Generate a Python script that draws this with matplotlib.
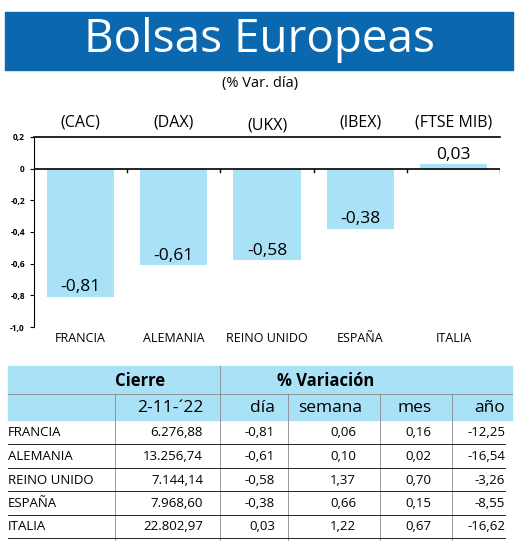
import matplotlib
matplotlib.use("Agg")
import matplotlib.pyplot as plt
from matplotlib.patches import Rectangle

plt.rcParams['font.family'] = ['Open Sans', 'DejaVu Sans']

countries = ["FRANCIA", "ALEMANIA", "REINO UNIDO", "ESPAÑA", "ITALIA"]
indices = ["(CAC)", "(DAX)", "(UKX)", "(IBEX)", "(FTSE MIB)"]
dia = [-0.81, -0.61, -0.58, -0.38, 0.03]
cierre = ["6.276,88", "13.256,74", "7.144,14", "7.968,60", "22.802,97"]
semana = ["0,06", "0,10", "1,37", "0,66", "1,22"]
mes = ["0,16", "0,02", "0,70", "0,15", "0,67"]
anio = ["-12,25", "-16,54", "-3,26", "-8,55", "-16,62"]

W, H = 520, 544
fig = plt.figure(figsize=(W / 100, H / 100), dpi=100)
fig.patch.set_facecolor("white")

def fx(px):
    return px / W

def fy(py):
    return 1 - py / H

# overlay axes in pixel coordinates
ov = fig.add_axes([0, 0, 1, 1])
ov.set_xlim(0, W)
ov.set_ylim(H, 0)
ov.axis("off")

blue = "#0b67ae"
light = "#a9e2f6"

ov.add_patch(Rectangle((5, 12), 508, 58, color=blue))
ov.text(260, 40, "Bolsas Europeas", color="white", fontsize=33, ha="center", va="center")
ov.text(260, 83, "(% Var. día)", fontsize=10.5, ha="center", va="center")

# bar chart
ax = fig.add_axes([fx(34), fy(327), fx(500 - 34), (327 - 137) / H])
x = list(range(len(dia)))
ax.bar(x, dia, width=0.72, color=light)
ax.set_xlim(-0.5, 4.5)
ax.set_ylim(-1.0, 0.2)
ax.set_yticks([0.2, 0, -0.2, -0.4, -0.6, -0.8, -1.0])
ax.set_yticklabels(["0,2", "0", "-0,2", "-0,4", "-0,6", "-0,8", "-1,0"], fontsize=6, fontweight="bold")
ax.set_xticks([])
for s in ["right", "bottom"]:
    ax.spines[s].set_visible(False)
ax.spines["top"].set_linewidth(1.2)
ax.axhline(0, color="black", lw=1.2)
for b in [0.5, 1.5, 2.5, 3.5, 4.5]:
    ax.plot([b, b], [0, -0.02], color="black", lw=1)
ax.tick_params(axis="y", length=3)
for i, v in enumerate(dia):
    lbl = f"{v:.2f}".replace(".", ",")
    ax.text(i, v + (0.06 if v < 0 else 0.055), lbl, ha="center", va="center", fontsize=12.5)
    ax.text(i, 0.29 if i != 2 else 0.27, indices[i], ha="center", va="center", fontsize=11.5, clip_on=False)
    ax.text(i, -1.07, countries[i], ha="center", va="center", fontsize=9, clip_on=False)

# table
ov.add_patch(Rectangle((8, 366), 504, 54, color=light))
ov.plot([8, 512], [394, 394], color="#888888", lw=0.6)
ov.plot([220, 220], [366, 420], color="#888888", lw=0.6)
for cx in [115, 288, 380, 452]:
    ov.plot([cx, cx], [394, 540], color="#888888", lw=0.6)
ov.plot([220, 220], [420, 540], color="#888888", lw=0.6)
ov.text(140, 381, "Cierre", fontsize=12, fontweight="bold", ha="center", va="center")
ov.text(326, 381, "% Variación", fontsize=12, fontweight="bold", ha="center", va="center")
heads = [(203, "2-11-´22"), (275, "día"), (362, "semana"), (432, "mes"), (505, "año")]
for hx, ht in heads:
    ov.text(hx, 408, ht, fontsize=12.5, ha="right", va="center")
cols = [(203, cierre, "right"), (275, [f"{v:.2f}".replace(".", ",") for v in dia], "right"),
        (343, semana, "center"), (418, mes, "center"), (505, anio, "right")]
for r in range(5):
    y = 433 + r * 23.5
    ov.text(8, y, countries[r], fontsize=9.5, ha="left", va="center")
    for cx, vals, ha in cols:
        ov.text(cx, y, vals[r], fontsize=9.5, ha=ha, va="center")
    ov.plot([8, 505], [y + 11, y + 11], color="black", lw=0.6)

fig.savefig("out.png", dpi=100)
